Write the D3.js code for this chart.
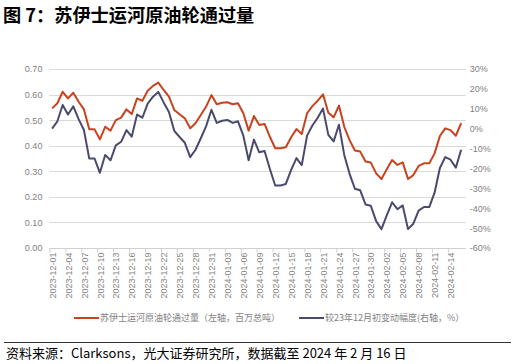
<!DOCTYPE html>
<html><head><meta charset="utf-8">
<script src="https://cdn.jsdelivr.net/npm/d3@7/dist/d3.min.js"></script>
<style>
html,body{margin:0;padding:0;background:#fff;}
svg{display:block;}
</style></head>
<body>
<script>
const startDate = "2023-12-01";
const dayCount = 78;
const throughput = [0.546,0.566,0.611,0.585,0.607,0.572,0.542,0.464,0.464,0.425,0.474,0.459,0.500,0.510,0.542,0.524,0.585,0.576,0.615,0.634,0.647,0.618,0.592,0.540,0.523,0.507,0.468,0.488,0.520,0.553,0.598,0.562,0.568,0.570,0.562,0.566,0.527,0.459,0.516,0.481,0.485,0.435,0.390,0.390,0.394,0.433,0.465,0.446,0.527,0.555,0.576,0.601,0.529,0.511,0.557,0.474,0.422,0.381,0.377,0.338,0.334,0.292,0.270,0.308,0.344,0.325,0.335,0.270,0.285,0.321,0.331,0.331,0.370,0.438,0.468,0.461,0.439,0.488];
const changePct = [0.0,3.7,11.9,7.1,11.2,4.8,-0.7,-15.0,-15.0,-22.2,-13.2,-15.9,-8.4,-6.6,-0.7,-4.0,7.1,5.5,12.6,16.1,18.5,13.2,8.4,-1.1,-4.2,-7.1,-14.3,-10.6,-4.8,1.3,9.5,2.9,4.0,4.4,2.9,3.7,-3.5,-15.9,-5.5,-11.9,-11.2,-20.3,-28.6,-28.6,-27.8,-20.7,-14.8,-18.3,-3.5,1.6,5.5,10.1,-3.1,-6.4,2.0,-13.2,-22.7,-30.2,-31.0,-38.1,-38.8,-46.5,-50.5,-43.6,-37.0,-40.5,-38.6,-50.5,-47.8,-41.2,-39.4,-39.4,-32.2,-19.8,-14.3,-15.6,-19.6,-10.6];
const leftTicks = [0,0.1,0.2,0.3,0.4,0.5,0.6,0.7];
const rightTicks = [30,20,10,0,-10,-20,-30,-40,-50,-60];
const titleText = "图 7：苏伊士运河原油轮通过量";
const legendLabels = ["苏伊士运河原油轮通过量（左轴，百万总吨）","较23年12月初变动幅度(右轴，%）"];
const sourceText = "资料来源：Clarksons，光大证券研究所，数据截至 2024 年 2 月 16 日";

const fmt = d3.utcFormat("%Y-%m-%d");
const d0 = new Date(startDate + "T00:00:00Z");
const dates = d3.range(dayCount).map(i => fmt(d3.utcDay.offset(d0, i)));

const W = 516, H = 364;
const svg = d3.select("body").append("svg").attr("width", W).attr("height", H);
const sans = "'Liberation Sans', Arial, 'Noto Sans CJK SC', sans-serif";
const cjk = "'Noto Sans CJK SC', 'Liberation Sans', sans-serif";

const plotL = 49.4, plotR = 463.8, plotT = 69, plotB = 248;
const x = d3.scalePoint().domain(dates).range([plotL, plotR]).padding(0.5);
const step = x.step();
const yL = d3.scaleLinear().domain([0, 0.7]).range([plotB, plotT]);
const yR = d3.scaleLinear().domain([-60, 30]).range([plotB, plotT]);

svg.append("text").attr("x", 3).attr("y", 22)
  .attr("font-family", cjk).attr("font-weight", "bold").attr("font-size", 18.2)
  .attr("fill", "#000").text(titleText);

svg.append("g").selectAll("line").data(leftTicks.filter(t => t > 0)).join("line")
  .attr("x1", plotL).attr("x2", plotR + 2)
  .attr("y1", d => Math.round(yL(d)) + 0.5).attr("y2", d => Math.round(yL(d)) + 0.5)
  .attr("stroke", "#d9d9d9").attr("stroke-width", 1);

const gL = svg.append("g").attr("transform", `translate(${plotL},0)`)
  .call(d3.axisLeft(yL).tickValues(leftTicks).tickFormat(d3.format(".2f")).tickSize(0).tickPadding(7));
gL.select(".domain").remove();
gL.selectAll("text").attr("font-family", sans).attr("font-size", 9).attr("fill", "#7f7f7f");

const gR = svg.append("g").attr("transform", `translate(${plotR + 4},0)`)
  .call(d3.axisRight(yR).tickValues(rightTicks).tickFormat(d => d + "%").tickSize(0).tickPadding(2));
gR.select(".domain").remove();
gR.selectAll("text").attr("font-family", sans).attr("font-size", 9).attr("fill", "#7f7f7f");

const labelDates = dates.filter((d, i) => i % 3 === 0);
const gX = svg.append("g").attr("transform", `translate(0,${Math.round(plotB) + 0.5})`)
  .call(d3.axisBottom(x).tickValues(labelDates).tickSize(0).tickPadding(0));
gX.select(".domain").attr("stroke", "#d0d0d0").attr("d", `M${plotL},0H${plotR + 2}`);
gX.selectAll(".tick text")
  .attr("font-family", sans).attr("font-size", 9).attr("fill", "#858585")
  .attr("text-anchor", "end").attr("dy", "0.35em")
  .attr("transform", "translate(0,4) rotate(-90)");
gX.selectAll(".tick").append("line")
  .attr("x1", -step / 2).attr("x2", -step / 2).attr("y1", 0).attr("y2", 4)
  .attr("stroke", "#d0d0d0");

const lineL = d3.line().x((d, i) => x(dates[i])).y(d => yL(d));
const lineR = d3.line().x((d, i) => x(dates[i])).y(d => yR(d));
const red = "#c9421d", navy = "#4a4a6e";
svg.append("path").datum(changePct).attr("d", lineR)
  .attr("fill", "none").attr("stroke", navy).attr("stroke-width", 2).attr("stroke-linejoin", "round");
svg.append("path").datum(throughput).attr("d", lineL)
  .attr("fill", "none").attr("stroke", red).attr("stroke-width", 2).attr("stroke-linejoin", "round");

const legY = 318;
const leg = [{c: red, x: 74, t: legendLabels[0]}, {c: navy, x: 299, t: legendLabels[1]}];
leg.forEach(l => {
  svg.append("line").attr("x1", l.x).attr("x2", l.x + 25).attr("y1", legY).attr("y2", legY)
    .attr("stroke", l.c).attr("stroke-width", 2);
  svg.append("text").attr("x", l.x + 26).attr("y", legY).attr("dy", "0.35em")
    .attr("font-family", cjk).attr("font-size", 9).attr("fill", "#7f7f7f").text(l.t);
});

svg.append("line").attr("x1", 4).attr("x2", 511).attr("y1", 342.5).attr("y2", 342.5)
  .attr("stroke", "#333").attr("stroke-width", 1);
svg.append("text").attr("x", 6).attr("y", 358)
  .attr("font-family", cjk).attr("font-size", 13).attr("fill", "#000").text(sourceText);
</script>
</body></html>
